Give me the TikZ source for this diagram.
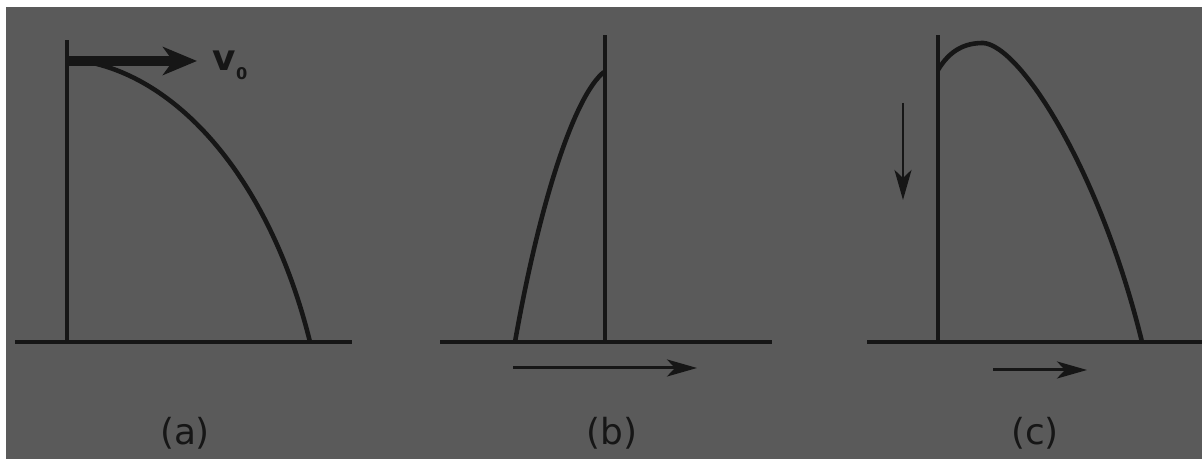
\documentclass[tikz,border=0pt]{standalone}
\usepackage{tikz}
\usepackage{xcolor}
\usepackage{fontspec}
\setmainfont{DejaVu Sans}
\usetikzlibrary{
    positioning,
    calc,
    arrows.meta
}
\definecolor{CinzaFundo}{HTML}{5A5A5A}
\definecolor{TintaEscura}{HTML}{161616}

\begin{document}
\begin{tikzpicture}[
        x=0.01cm,
        y=-0.01cm,
        chao/.style={draw=TintaEscura, line width=1.4pt},
        haste/.style={draw=TintaEscura, line width=0.9pt},
        trajetoria/.style={draw=TintaEscura, line width=1.3pt},
        setaFina/.style={
            draw=TintaEscura,
            line width=0.85pt,
            -{Stealth[length=0.3cm, width=0.17cm, inset=0.08cm]}
        },
        setaGrossa/.style={
            draw=TintaEscura,
            line width=2.6pt,
            -{Stealth[length=0.34cm, width=0.28cm, inset=0.1cm]}
        },
        rotulo/.style={
            text=TintaEscura,
            font=\fontsize{10.2}{12}\selectfont,
            inner sep=0pt
        }
    ]

    \useasboundingbox (0,0) rectangle (1202,459);
    \fill[white] (0,0) rectangle (1202,459);
    \fill[CinzaFundo] (6,7) rectangle (1202,459);

    % (a)
    \coordinate (baseA) at (67,342);
    \coordinate (topoA) at (67,40);
    \coordinate (saidaA) at (67,61);
    \coordinate (pontaA) at (197,61);
    \coordinate (largadaA) at (88,62);
    \coordinate (quedaA) at (310,342);
    \draw[chao] (15,342) -- (352,342);
    \draw[haste] (baseA) -- (topoA);
    \draw[trajetoria] (largadaA) .. controls (180,80) and (270,180) .. (quedaA);
    \draw[setaGrossa] (saidaA) -- (pontaA);
    \node[
        rotulo,
        right=0.15cm of pontaA,
        yshift=-1.2pt
    ] (rotuloV) {\textbf{v}\raisebox{-2.6pt}{\fontsize{4.6}{5}\selectfont\textbf{0}}};
    \node[rotulo] (rotuloA) at (185,433) {(a)};

    % (b)
    \coordinate (baseB) at (605,342);
    \coordinate (topoB) at (605,35);
    \coordinate (largadaB) at (515,342);
    \coordinate (chegadaB) at (604,72);
    \coordinate (inicioB) at (513,368);
    \coordinate (fimB) at (697,368);
    \draw[chao] (440,342) -- (772,342);
    \draw[haste] (baseB) -- (topoB);
    \draw[trajetoria] (largadaB) .. controls (540,200) and (575,95) .. (chegadaB);
    \draw[setaFina] (inicioB) -- (fimB);
    \node[rotulo] (rotuloB) at (612,433) {(b)};

    % (c)
    \coordinate (baseC) at (938,342);
    \coordinate (topoC) at (938,35);
    \coordinate (largadaC) at (938,70);
    \coordinate (picoC) at (983,43);
    \coordinate (quedaC) at (1142,342);
    \coordinate (inicioC) at (993,370);
    \coordinate (fimC) at (1087,370);
    \coordinate (altoC) at (903,103);
    \coordinate (baixoC) at (903,200);
    \draw[chao] (867,342) -- (1202,342);
    \draw[haste] (baseC) -- (topoC);
    \draw[trajetoria] (largadaC) .. controls (950,50) and (965,43) .. (picoC)
        .. controls (1020,45) and (1100,170) .. (quedaC);
    \draw[setaFina] (altoC) -- (baixoC);
    \draw[setaFina] (inicioC) -- (fimC);
    \node[rotulo] (rotuloC) at (1035,433) {(c)};

\end{tikzpicture}
\end{document}
